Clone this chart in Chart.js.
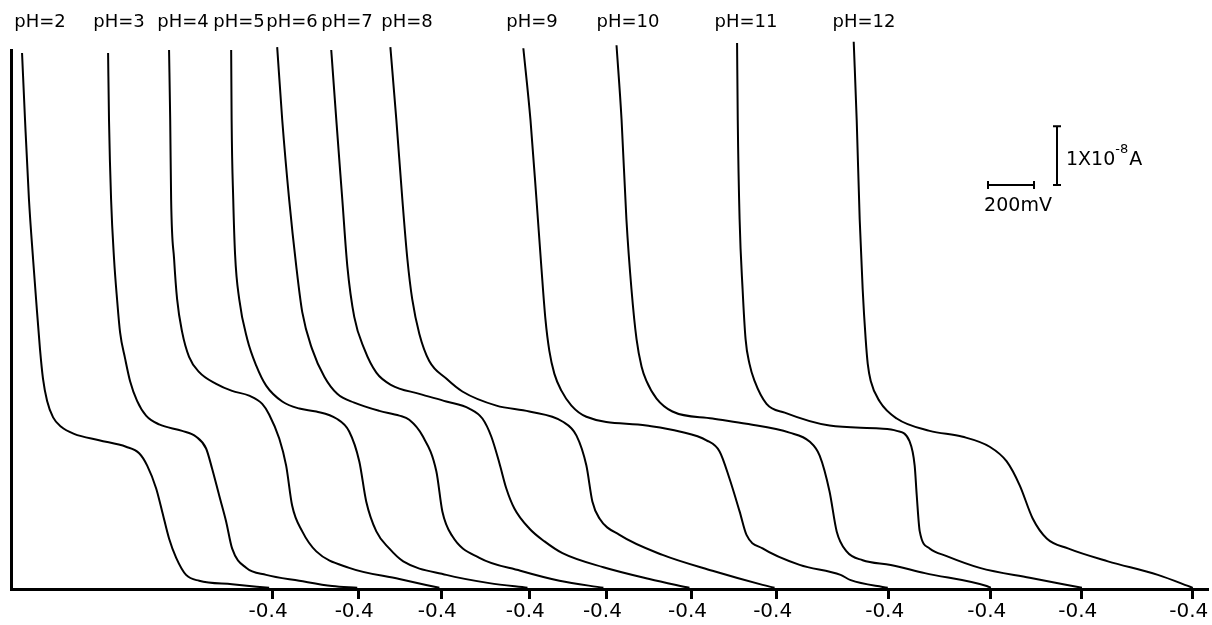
<!DOCTYPE html>
<html>
<head>
<meta charset="utf-8">
<script src="https://cdn.jsdelivr.net/npm/chart.js@4.4.1/dist/chart.umd.min.js"></script>
<style>
  html, body { margin: 0; padding: 0; background: #fff; }
  canvas { display: block; }
</style>
</head>
<body>
<canvas id="polarogram" width="1212" height="625"></canvas>
<script>
// x: potential along the recorder sheet in mV (0 at the left edge), y: current in nA
const phLabels = ['pH=2', 'pH=3', 'pH=4', 'pH=5', 'pH=6', 'pH=7', 'pH=8', 'pH=9', 'pH=10', 'pH=11', 'pH=12'];

const ph2 = [[48, 91.2], [61, 79.8], [78, 66.3], [96, 56.1], [109, 49.3], [126, 40.8], [139, 35.8], [157, 32.0], [183, 29.2], [218, 27.6], [274, 26.4], [383, 25.3], [500, 24.2], [557, 23.1], [592, 21.0], [631, 17.1], [657, 13.2], [687, 8.6], [718, 5.3], [761, 2.4], [818, 1.4], [961, 0.8], [1122, 0.2]];
const ph3 = [[422, 91.2], [426, 79.8], [435, 66.3], [448, 56.1], [461, 49.3], [474, 43.7], [496, 39.2], [518, 35.3], [548, 32.0], [587, 29.5], [644, 28.0], [744, 26.9], [805, 25.9], [848, 23.9], [874, 20.5], [905, 15.9], [935, 11.5], [961, 6.9], [1022, 3.6], [1109, 2.4], [1253, 1.4], [1396, 0.5], [1505, 0.2]];
const ph4 = [[687, 91.7], [692, 79.8], [696, 66.3], [709, 56.1], [722, 49.3], [744, 43.7], [774, 39.5], [818, 36.9], [892, 34.9], [961, 33.7], [1035, 32.9], [1092, 31.5], [1122, 29.7], [1166, 25.6], [1196, 21.0], [1222, 14.2], [1266, 9.8], [1327, 6.4], [1470, 3.6], [1688, 1.7], [1862, 0.2]];
const ph5 = [[957, 91.7], [959, 79.8], [966, 66.3], [974, 56.9], [992, 49.3], [1027, 42.5], [1066, 38.0], [1109, 34.6], [1179, 31.9], [1253, 30.7], [1327, 30.2], [1414, 29.0], [1470, 26.8], [1514, 21.7], [1544, 14.9], [1588, 9.8], [1644, 6.9], [1705, 4.7], [1892, 2.4], [2079, 1.0], [2245, 0.2]];
const ph6 = [[1157, 92.2], [1179, 79.8], [1209, 66.3], [1240, 54.9], [1266, 47.1], [1309, 40.8], [1362, 36.1], [1418, 33.2], [1492, 31.7], [1601, 30.3], [1688, 29.5], [1731, 28.8], [1788, 26.1], [1849, 20.0], [1875, 13.2], [1918, 9.0], [2036, 5.3], [2214, 3.1], [2384, 1.4], [2575, 0.2]];
const ph7 = [[1392, 91.7], [1414, 79.8], [1440, 66.3], [1462, 54.9], [1492, 46.3], [1536, 40.8], [1588, 36.8], [1653, 34.7], [1775, 33.2], [1892, 31.9], [1992, 30.7], [2049, 29.0], [2088, 25.9], [2123, 21.4], [2153, 17.1], [2188, 13.7], [2253, 10.3], [2319, 8.1], [2397, 6.1], [2575, 3.7], [2775, 1.7], [2949, 0.2]];
const ph8 = [[1649, 92.2], [1675, 79.8], [1701, 66.3], [1723, 56.1], [1744, 49.3], [1775, 43.4], [1818, 38.8], [1892, 35.8], [1962, 33.6], [2110, 31.2], [2253, 30.2], [2397, 28.5], [2458, 26.1], [2501, 21.0], [2527, 14.9], [2558, 12.0], [2645, 9.2], [2832, 5.8], [3049, 3.1], [3267, 0.7], [3319, 0.2]];
const ph9 = [[2227, 92.0], [2258, 79.8], [2284, 66.3], [2306, 54.4], [2323, 45.9], [2340, 40.5], [2362, 36.6], [2393, 33.7], [2436, 31.2], [2501, 29.3], [2762, 27.8], [2906, 26.8], [3023, 25.3], [3080, 23.4], [3123, 18.8], [3167, 13.2], [3197, 9.2], [3267, 6.9], [3428, 4.1], [3606, 2.4], [3650, 1.5], [3811, 0.2]];
const ph10 = [[2632, 92.5], [2654, 79.8], [2675, 62.9], [2697, 51.0], [2719, 42.5], [2741, 37.8], [2762, 35.4], [2806, 32.4], [2875, 30.2], [3049, 29.0], [3197, 28.1], [3384, 26.6], [3471, 25.1], [3515, 22.7], [3558, 16.6], [3589, 9.8], [3632, 6.4], [3702, 4.9], [3824, 4.1], [3972, 2.7], [4241, 0.5], [4259, 0.2]];
const ph11 = [[3156, 92.9], [3159, 79.8], [3167, 62.9], [3180, 51.0], [3193, 42.5], [3210, 38.3], [3232, 35.4], [3284, 31.5], [3363, 30.0], [3558, 27.8], [3776, 27.3], [3850, 26.9], [3906, 25.1], [3928, 21.0], [3937, 15.9], [3950, 9.8], [3993, 6.9], [4067, 5.6], [4211, 3.6], [4428, 1.9], [4655, 0.2]];
const ph12 = [[3663, 93.1], [3676, 79.8], [3689, 62.9], [3702, 51.0], [3715, 42.5], [3724, 38.3], [3737, 35.4], [3776, 31.9], [3850, 29.0], [3993, 26.9], [4137, 25.9], [4254, 24.2], [4328, 21.7], [4385, 17.6], [4441, 12.0], [4502, 8.6], [4594, 6.9], [4768, 4.7], [4985, 2.4], [5137, 0.2]];

const curves = [ph2, ph3, ph4, ph5, ph6, ph7, ph8, ph9, ph10, ph11, ph12];

// where each curve's own -0.4 V mark falls on the sheet (mV)
const tickPositions = [1135, 1509, 1870, 2253, 2588, 2958, 3328, 3815, 4259, 4654, 5137];
const tickLabel = '-0.4';

// scale bars
const barMv = 200;
const barNa = 10;

const FONT = 'DejaVu Sans';

const annotations = {
    id: 'annotations',
    afterDraw(chart) {
        const ctx = chart.ctx;
        const x = chart.scales.x;
        const y = chart.scales.y;
        ctx.save();
        ctx.fillStyle = '#000';
        ctx.strokeStyle = '#000';

        // pH labels over the curves
        const labelCenters = [40, 119, 183, 239, 292, 347, 407, 532, 628, 746, 864];
        ctx.font = '18px "' + FONT + '"';
        ctx.textAlign = 'center';
        ctx.textBaseline = 'middle';
        phLabels.forEach((t, i) => ctx.fillText(t, labelCenters[i], 22));

        // current scale bar
        const vx = 1057;
        const vBottom = 185;
        const vLen = y.getPixelForValue(0) - y.getPixelForValue(barNa);
        ctx.lineWidth = 2;
        ctx.beginPath();
        ctx.moveTo(vx, vBottom);
        ctx.lineTo(vx, vBottom - vLen);
        ctx.moveTo(vx - 4, vBottom);
        ctx.lineTo(vx + 4, vBottom);
        ctx.moveTo(vx - 4, vBottom - vLen);
        ctx.lineTo(vx + 4, vBottom - vLen);
        ctx.stroke();

        ctx.textAlign = 'left';
        ctx.textBaseline = 'alphabetic';
        ctx.font = '19px "' + FONT + '"';
        ctx.fillText('1X10', 1066, 165);
        const w = ctx.measureText('1X10').width;
        ctx.font = '13px "' + FONT + '"';
        ctx.fillText('-8', 1066 + w, 153);
        const w2 = ctx.measureText('-8').width;
        ctx.font = '19px "' + FONT + '"';
        ctx.fillText('A', 1066 + w + w2 + 1, 165);

        // potential scale bar
        const hLeft = 988;
        const hy = 185;
        const hLen = x.getPixelForValue(barMv) - x.getPixelForValue(0);
        ctx.beginPath();
        ctx.moveTo(hLeft, hy);
        ctx.lineTo(hLeft + hLen, hy);
        ctx.moveTo(hLeft, hy - 4);
        ctx.lineTo(hLeft, hy + 4);
        ctx.moveTo(hLeft + hLen, hy - 4);
        ctx.lineTo(hLeft + hLen, hy + 4);
        ctx.stroke();
        ctx.textAlign = 'center';
        ctx.textBaseline = 'middle';
        ctx.fillText('200mV', 1018, 206);

        ctx.restore();
    }
};

new Chart(document.getElementById('polarogram').getContext('2d'), {
    type: 'line',
    data: {
        datasets: curves.map((pts, i) => ({
            label: phLabels[i],
            data: pts.map(p => ({ x: p[0], y: p[1] })),
            borderColor: '#000',
            borderWidth: 2,
            pointRadius: 0,
            cubicInterpolationMode: 'monotone',
            fill: false,
            clip: false
        }))
    },
    options: {
        responsive: false,
        animation: false,
        layout: { padding: { top: 50, left: 11, right: 4, bottom: 0 } },
        plugins: {
            legend: { display: false },
            tooltip: { enabled: false }
        },
        scales: {
            x: {
                type: 'linear',
                min: 0,
                max: 5203,
                afterBuildTicks: (axis) => {
                    axis.ticks = tickPositions.map(v => ({ value: v }));
                },
                afterFit: (axis) => {
                    axis.paddingLeft = 0;
                    axis.paddingRight = 0;
                },
                ticks: {
                    callback: () => tickLabel,
                    autoSkip: false,
                    maxRotation: 0,
                    color: '#000',
                    padding: 1,
                    labelOffset: -4,
                    font: { family: FONT, size: 20 }
                },
                grid: {
                    drawOnChartArea: false,
                    drawTicks: true,
                    tickLength: 10,
                    tickWidth: 3,
                    tickColor: '#000'
                },
                border: { display: true, color: '#000', width: 3 }
            },
            y: {
                type: 'linear',
                min: 0,
                max: 91.7,
                afterFit: (axis) => { axis.width = 0; },
                ticks: { display: false },
                grid: { display: false },
                border: { display: true, color: '#000', width: 3 }
            }
        }
    },
    plugins: [annotations]
});
</script>
</body>
</html>
